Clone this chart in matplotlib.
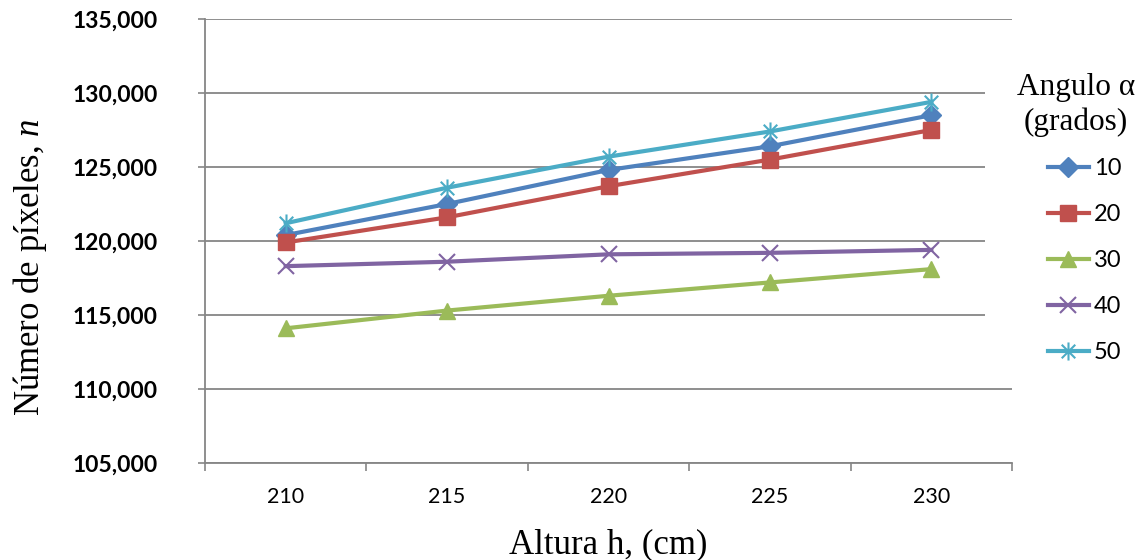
import matplotlib
matplotlib.use("Agg")
import matplotlib.pyplot as plt
from matplotlib.path import Path
from matplotlib.patches import Rectangle

heights = ["210", "215", "220", "225", "230"]
angles = ["10", "20", "30", "40", "50"]
s10 = [120400, 122500, 124800, 126400, 128500]
s20 = [119900, 121600, 123700, 125500, 127500]
s30 = [114100, 115300, 116300, 117200, 118100]
s40 = [118300, 118600, 119100, 119200, 119400]
s50 = [121200, 123600, 125700, 127400, 129400]
series = [s10, s20, s30, s40, s50]
colors = ["#4F81BD", "#C0504D", "#9BBB59", "#8064A2", "#4BACC6"]

star = Path([(0, -1), (0, 1), (-0.75, -0.75), (0.75, 0.75), (-0.75, 0.75), (0.75, -0.75)],
            [Path.MOVETO, Path.LINETO, Path.MOVETO, Path.LINETO, Path.MOVETO, Path.LINETO])
markers = ["D", "s", "^", "x", star]
msizes = [10.5, 11.5, 11.5, 11, 13]

plt.rcParams['mathtext.fontset'] = 'custom'
plt.rcParams['mathtext.it'] = 'Liberation Serif:italic'
plt.rcParams['mathtext.rm'] = 'Liberation Serif'

W, H = 1145, 560
fig = plt.figure(figsize=(W / 100, H / 100), dpi=100)
L, R, T, B = 205, 1012, 19, 463
ax = fig.add_axes([L / W, 1 - B / H, (R - L) / W, (B - T) / H])

x = list(range(len(heights)))
handles = []
for vals, c, m, ms, lab in zip(series, colors, markers, msizes, angles):
    h, = ax.plot(x, vals, color=c, lw=3, marker=m, markersize=ms,
                 markeredgewidth=1.5 if (m == "x" or m is star) else 1,
                 markerfacecolor=c, markeredgecolor=c, label=lab, zorder=3)
    handles.append(h)

ax.set_xlim(-0.5, len(heights) - 0.5)
ax.set_ylim(105000, 135000)
ax.set_yticks(range(105000, 135001, 5000))
ax.set_yticklabels([f"{v:,}" for v in range(105000, 135001, 5000)],
                   fontfamily="Lato", fontweight="bold", fontsize=16.5)
ax.set_xticks(x)
ax.set_xticklabels(heights, fontfamily="Lato", fontsize=15.5)
ax.set_xticks([i - 0.5 for i in range(len(heights) + 1)], minor=True)
ax.tick_params(axis="x", which="major", length=0, pad=17)
ax.tick_params(axis="x", which="minor", length=6, color="#868686", width=1.2, direction="out")
ax.tick_params(axis="y", length=5, color="#868686", width=1.2, pad=29)

ax.grid(axis="y", color="#868686", lw=1.3)
ax.set_axisbelow(True)
for s in ("top", "right"):
    ax.spines[s].set_visible(False)
for s in ("left", "bottom"):
    ax.spines[s].set_color("#868686")
    ax.spines[s].set_linewidth(1.3)

# white legend background
fig.patches.append(Rectangle((985 / W, 1 - 380 / H), (W - 985) / W, 310 / H,
                             transform=fig.transFigure, facecolor="white",
                             edgecolor="none", zorder=2))

fig.text(1076 / W, 1 - 88 / H, "Angulo α", ha="center", va="center",
         fontfamily="Liberation Serif", fontsize=22.5, zorder=5)
fig.text(1076 / W, 1 - 122 / H, "(grados)", ha="center", va="center",
         fontfamily="Liberation Serif", fontsize=22.5, zorder=5)

leg = fig.legend(handles=handles, labels=angles, loc="upper left",
                 bbox_to_anchor=(1036 / W, 1 - 146 / H), frameon=False,
                 handlelength=1.75, handletextpad=0.2, labelspacing=1.06,
                 prop={"family": "Lato", "size": 17}, borderpad=0)
leg.set_zorder(6)

fig.text(30 / W, 1 - 267 / H, "Número de píxeles, $n$", rotation=90,
         ha="center", va="center", fontfamily="Liberation Serif", fontsize=25)
fig.text(608 / W, 1 - 545 / H, "Altura h, (cm)", ha="center", va="center",
         fontfamily="Liberation Serif", fontsize=25)

fig.savefig("out.png", dpi=100)
